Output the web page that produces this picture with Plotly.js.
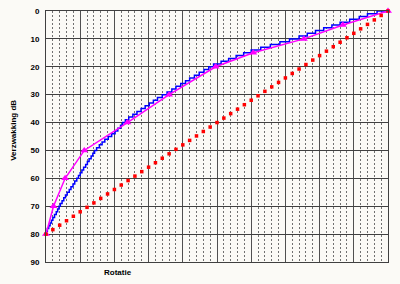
<!DOCTYPE html>
<html>
<head>
<meta charset="utf-8">
<script src="https://cdn.plot.ly/plotly-3.0.1.min.js"></script>
<style>
html,body{margin:0;padding:0;background:#fbfaf6;}
#chart{width:400px;height:284px;}
</style>
</head>
<body>
<div id="chart"></div>
<script>
// Measured (magenta) points: rotation step vs attenuation dB
const measX = [0, 1.1, 2.8, 5.6, 11.9, 18.0, 24.8, 30.3, 37.7, 43.4, 50];
const measY = [80, 70, 60, 50, 40, 30, 20, 15, 10, 5, 0];

// Blue staircase: rotation position for each dB step
const blueX = [0, 0.2, 0.4, 0.6, 0.8, 1.0, 1.25, 1.5, 1.7, 1.9, 2.1,
  2.35, 2.6, 2.85, 3.1, 3.4, 3.65, 3.95, 4.2, 4.5, 4.75,
  5.0, 5.25, 5.5, 5.8, 6.05, 6.3, 6.6, 6.85, 7.1, 7.4,
  7.8, 8.2, 8.6, 9.1, 9.6, 10.1, 10.5, 10.9, 11.2, 11.6,
  12.1, 12.7, 13.3, 13.9, 14.5, 15.1, 15.7, 16.3, 17.0, 17.7,
  18.4, 19.0, 19.7, 20.4, 21.0, 21.7, 22.4, 23.1, 23.8, 24.5,
  25.6, 26.7, 27.8, 28.9, 30.0, 31.4, 32.8, 34.2, 35.6, 37.0,
  38.2, 39.4, 40.6, 41.8, 43.0, 44.4, 45.8, 47.0, 48.4, 50];
const blueY = [80, 79, 78, 77, 76, 75, 74, 73, 72, 71, 70,
  69, 68, 67, 66, 65, 64, 63, 62, 61, 60,
  59, 58, 57, 56, 55, 54, 53, 52, 51, 50,
  49, 48, 47, 46, 45, 44, 43, 42, 41, 40,
  39, 38, 37, 36, 35, 34, 33, 32, 31, 30,
  29, 28, 27, 26, 25, 24, 23, 22, 21, 20,
  19, 18, 17, 16, 15, 14, 13, 12, 11, 10,
  9, 8, 7, 6, 5, 4, 3, 2, 1, 0];

// Red dotted reference line
const redX = [0,1,2,3,4,5,6,7,8,9,10,11,12,13,14,15,16,17,18,19,20,
  21,22,23,24,25,26,27,28,29,30,31,32,33,34,35,36,37,38,39,40,
  41,42,43,44,45,46,47,48,49,50];
const redY = [80,78.4,76.8,75.2,73.6,72,70.4,68.8,67.2,65.6,64,
  62.4,60.8,59.2,57.6,56,54.4,52.8,51.2,49.6,48,
  46.4,44.8,43.2,41.6,40,38.4,36.8,35.2,33.6,32,
  30.4,28.8,27.2,25.6,24,22.4,20.8,19.2,17.6,16,
  14.4,12.8,11.2,9.6,8,6.4,4.8,3.2,1.6,0];

const yTicks = [0,10,20,30,40,50,60,70,80,90];

const traces = [
  {x: blueX, y: blueY, type: 'scatter', mode: 'lines',
   line: {color: '#0000ff', width: 1.5, shape: 'vh'}, cliponaxis: false, hoverinfo: 'skip'},
  {x: measX, y: measY, type: 'scatter', mode: 'lines+markers',
   line: {color: '#ff00ff', width: 1.5},
   marker: {symbol: 'triangle-up', size: 7, color: '#ff00ff'}, cliponaxis: false},
  {x: redX, y: redY, type: 'scatter', mode: 'markers',
   marker: {symbol: 'square', size: 3.5, color: '#ff0000', line: {width: 0}}, cliponaxis: false}
];

const layout = {
  width: 400, height: 284,
  margin: {l: 46, r: 12, t: 11, b: 22},
  paper_bgcolor: '#fbfaf6',
  plot_bgcolor: '#fbfaf6',
  showlegend: false,
  font: {family: 'Arial, Liberation Sans, sans-serif', size: 8, color: '#000'},
  xaxis: {
    range: [0, 50], dtick: 5, tick0: 0,
    showticklabels: false, ticks: '',
    showgrid: true, gridcolor: '#505050', gridwidth: 1,
    zeroline: false,
    showline: true, linecolor: '#404040', linewidth: 1, mirror: true,
    minor: {dtick: 1, showgrid: true, gridcolor: '#707070', griddash: '2px,2px', gridwidth: 1, ticks: ''}
  },
  yaxis: {
    range: [90, 0], tickvals: yTicks, ticktext: yTicks.map(String),
    tickfont: {family: 'Arial, Liberation Sans, sans-serif', size: 8, weight: 'bold', color: '#000'},
    ticks: '', ticklabelstandoff: 4,
    showgrid: true, gridcolor: '#404040', gridwidth: 1,
    zeroline: false,
    showline: true, linecolor: '#404040', linewidth: 1, mirror: true
  },
  annotations: [
    {text: 'Verzwakking dB', xref: 'paper', yref: 'paper', x: -0.094, y: 0.526,
     textangle: -90, showarrow: false, xanchor: 'center', yanchor: 'middle',
     font: {family: 'Arial, Liberation Sans, sans-serif', size: 8, weight: 'bold', color: '#000'}},
    {text: 'Rotatie', xref: 'paper', yref: 'paper', x: 0.21, y: -0.04,
     showarrow: false, xanchor: 'center', yanchor: 'middle',
     font: {family: 'Arial, Liberation Sans, sans-serif', size: 8, weight: 'bold', color: '#000'}}
  ]
};

Plotly.newPlot('chart', traces, layout, {displayModeBar: false, staticPlot: true});
</script>
</body>
</html>
